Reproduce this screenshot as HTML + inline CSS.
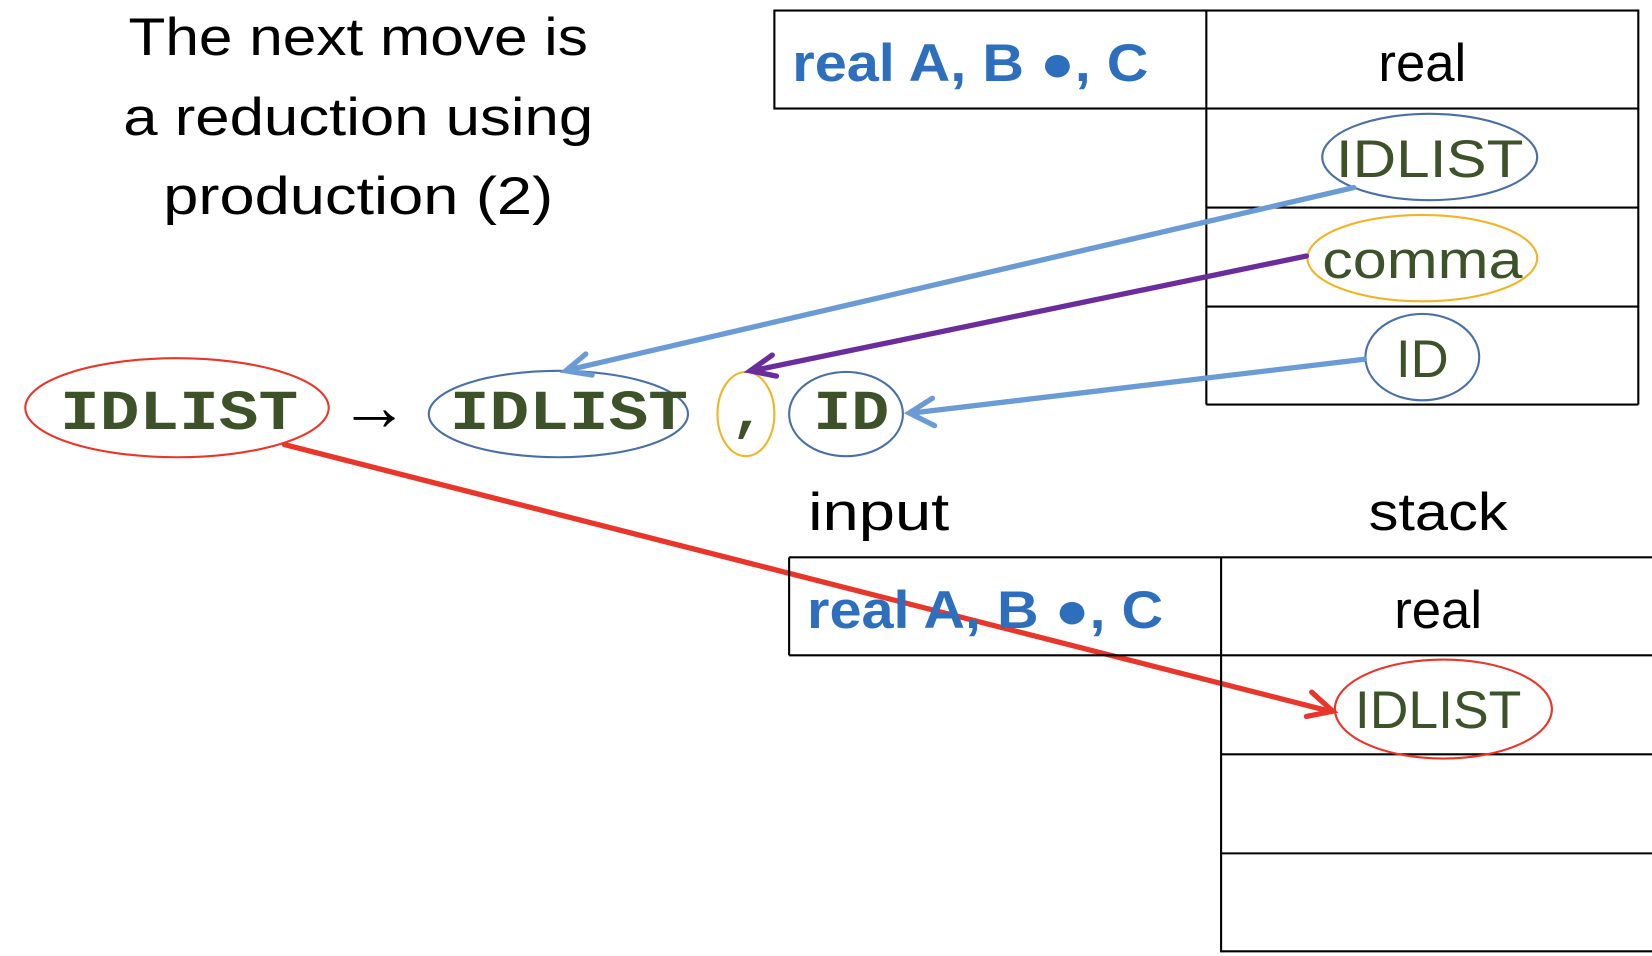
<!DOCTYPE html>
<html><head><meta charset="utf-8"><style>
html,body{margin:0;padding:0;background:#fff;width:1652px;height:956px;overflow:hidden}
svg text{font-family:"Liberation Sans",sans-serif}
.m{font-family:"Liberation Mono",monospace!important;font-weight:bold}
</style></head><body>
<svg width="1652" height="956" viewBox="0 0 1568 907.4" preserveAspectRatio="none">
<g font-size="50" text-anchor="middle" fill="#000">
<text x="340" y="52" textLength="436" lengthAdjust="spacingAndGlyphs">The next move is</text>
<text x="340" y="128" textLength="446" lengthAdjust="spacingAndGlyphs">a reduction using</text>
<text x="340" y="203" textLength="370" lengthAdjust="spacingAndGlyphs">production (2)</text>
</g>
<g fill="none" stroke="#000" stroke-width="2">
<rect x="735" y="10" width="820" height="93"/>
<line x1="1145" y1="10" x2="1145" y2="384"/>
<line x1="1555" y1="103" x2="1555" y2="384"/>
<line x1="1145" y1="197" x2="1555" y2="197"/>
<line x1="1145" y1="291" x2="1555" y2="291"/>
<line x1="1145" y1="384" x2="1555" y2="384"/>
</g>
<text x="752" y="77" font-size="50" font-weight="bold" fill="#2e6fbd" textLength="338" lengthAdjust="spacingAndGlyphs">real A, B ●, C</text>
<text x="1350" y="77" font-size="50" text-anchor="middle">real</text>
<g fill="none" stroke-width="2">
<ellipse cx="1357" cy="149" rx="102" ry="41" stroke="#4a6fa5"/>
<ellipse cx="1350" cy="245" rx="109" ry="41" stroke="#f0b429"/>
<ellipse cx="1350" cy="339" rx="54" ry="41" stroke="#4a6fa5"/>
</g>
<g font-size="50" fill="#3d5229" text-anchor="middle">
<text x="1357" y="168" textLength="178" lengthAdjust="spacingAndGlyphs">IDLIST</text>
<text x="1350" y="264" textLength="190" lengthAdjust="spacingAndGlyphs">comma</text>
<text x="1350" y="358">ID</text>
</g>
<g>
<ellipse cx="168" cy="387" rx="144" ry="47" fill="none" stroke="#e8362a" stroke-width="2"/>
<text class="m" x="170" y="407" font-size="54" fill="#3d5229" text-anchor="middle" textLength="226" lengthAdjust="spacingAndGlyphs">IDLIST</text>
<text x="355" y="408" font-size="66" text-anchor="middle">→</text>
<ellipse cx="530" cy="393" rx="123" ry="41" fill="none" stroke="#4a6fa5" stroke-width="2"/>
<text class="m" x="540" y="407" font-size="54" fill="#3d5229" text-anchor="middle" textLength="226" lengthAdjust="spacingAndGlyphs">IDLIST</text>
<ellipse cx="708" cy="393" rx="27" ry="40" fill="none" stroke="#f0b429" stroke-width="2"/>
<text class="m" x="710" y="407" font-size="54" fill="#3d5229" text-anchor="middle">,</text>
<ellipse cx="803" cy="393" rx="54" ry="40" fill="none" stroke="#4a6fa5" stroke-width="2"/>
<text class="m" x="808" y="407" font-size="54" fill="#3d5229" text-anchor="middle" textLength="72" lengthAdjust="spacingAndGlyphs">ID</text>
</g>
<g fill="none" stroke-width="5" stroke-linecap="round">
<line x1="1285" y1="178" x2="540" y2="351" stroke="#6a9bd5"/>
<path d="M556,336 L537,352 L562,356" stroke="#6a9bd5"/>
<line x1="1240" y1="243" x2="714" y2="352" stroke="#6a2d9b"/>
<path d="M733,337 L712,352 L737,357" stroke="#6a2d9b"/>
<line x1="1295" y1="341" x2="866" y2="392" stroke="#6a9bd5"/>
<path d="M885,378 L863,392 L887,404" stroke="#6a9bd5"/>
<line x1="270" y1="422" x2="1262" y2="675" stroke="#e8362a"/>
<path d="M1245,657 L1265,675 L1240,680" stroke="#e8362a"/>
</g>
<text x="767" y="503" font-size="50" textLength="134" lengthAdjust="spacingAndGlyphs">input</text>
<text x="1365" y="503" font-size="50" text-anchor="middle" textLength="132" lengthAdjust="spacingAndGlyphs">stack</text>
<g fill="none" stroke="#000" stroke-width="2">
<line x1="749" y1="529" x2="1568" y2="529"/>
<line x1="749" y1="622" x2="1568" y2="622"/>
<line x1="749" y1="529" x2="749" y2="622"/>
<line x1="1159" y1="529" x2="1159" y2="904"/>
<line x1="1159" y1="716" x2="1568" y2="716"/>
<line x1="1159" y1="810" x2="1568" y2="810"/>
<line x1="1159" y1="903" x2="1568" y2="903"/>
</g>
<text x="766" y="596" font-size="50" font-weight="bold" fill="#2e6fbd" textLength="338" lengthAdjust="spacingAndGlyphs">real A, B ●, C</text>
<text x="1365" y="596" font-size="50" text-anchor="middle">real</text>
<ellipse cx="1370" cy="673" rx="103" ry="47" fill="none" stroke="#e8362a" stroke-width="2"/>
<text x="1365" y="691" font-size="50" fill="#3d5229" text-anchor="middle" textLength="158" lengthAdjust="spacingAndGlyphs">IDLIST</text>
</svg>
</body></html>
